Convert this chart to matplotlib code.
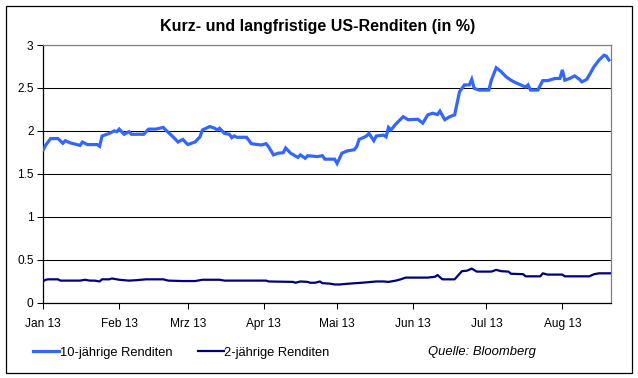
import pandas as pd
import matplotlib
matplotlib.use('Agg')
import matplotlib.pyplot as plt
from matplotlib.patches import Rectangle

plt.rcParams['font.family'] = ['Liberation Sans', 'DejaVu Sans']

# 10-year yields
dates_10y = ['2013-01-01', '2013-01-02', '2013-01-04', '2013-01-07', '2013-01-09', '2013-01-10',
             '2013-01-12', '2013-01-16', '2013-01-17', '2013-01-19', '2013-01-23', '2013-01-24',
             '2013-01-25', '2013-01-28', '2013-01-30', '2013-01-31', '2013-02-01', '2013-02-03',
             '2013-02-05', '2013-02-06', '2013-02-11', '2013-02-13', '2013-02-16', '2013-02-19',
             '2013-02-20', '2013-02-23', '2013-02-25', '2013-02-27', '2013-03-01', '2013-03-04',
             '2013-03-06', '2013-03-07', '2013-03-10', '2013-03-12', '2013-03-13', '2013-03-14',
             '2013-03-16', '2013-03-18', '2013-03-19', '2013-03-20', '2013-03-21', '2013-03-25',
             '2013-03-27', '2013-03-31', '2013-04-02', '2013-04-03', '2013-04-05', '2013-04-07',
             '2013-04-09', '2013-04-10', '2013-04-12', '2013-04-15', '2013-04-16', '2013-04-18',
             '2013-04-19', '2013-04-23', '2013-04-25', '2013-04-26', '2013-04-30', '2013-05-01',
             '2013-05-03', '2013-05-05', '2013-05-08', '2013-05-09', '2013-05-10', '2013-05-12',
             '2013-05-13', '2013-05-14', '2013-05-16', '2013-05-17', '2013-05-20', '2013-05-21',
             '2013-05-22', '2013-05-23', '2013-05-25', '2013-05-28', '2013-05-30', '2013-06-03',
             '2013-06-05', '2013-06-07', '2013-06-09', '2013-06-11', '2013-06-12', '2013-06-14',
             '2013-06-16', '2013-06-18', '2013-06-19', '2013-06-20', '2013-06-22', '2013-06-24',
             '2013-06-25', '2013-06-26', '2013-06-28', '2013-07-02', '2013-07-03', '2013-07-05',
             '2013-07-07', '2013-07-09', '2013-07-11', '2013-07-13', '2013-07-17', '2013-07-18',
             '2013-07-19', '2013-07-22', '2013-07-24', '2013-07-26', '2013-07-29', '2013-07-31',
             '2013-08-01', '2013-08-02', '2013-08-04', '2013-08-06', '2013-08-08', '2013-08-09',
             '2013-08-11', '2013-08-13', '2013-08-14', '2013-08-16', '2013-08-18', '2013-08-19',
             '2013-08-20']
yield_10y = [1.78, 1.835, 1.91, 1.91, 1.855, 1.885,
             1.86, 1.83, 1.87, 1.84, 1.84, 1.82,
             1.94, 1.97, 2.00, 1.99, 2.02, 1.96,
             1.99, 1.96, 1.96, 2.02, 2.02, 2.04,
             2.01, 1.93, 1.87, 1.90, 1.84, 1.87,
             1.93, 2.01, 2.05, 2.03, 2.01, 2.03,
             1.97, 1.96, 1.92, 1.94, 1.925, 1.925,
             1.85, 1.835, 1.85, 1.815, 1.72, 1.74,
             1.745, 1.80, 1.74, 1.69, 1.72, 1.68,
             1.71, 1.70, 1.71, 1.67, 1.67, 1.62,
             1.74, 1.765, 1.78, 1.815, 1.90, 1.925,
             1.94, 1.97, 1.885, 1.94, 1.95, 1.93,
             2.04, 2.01, 2.08, 2.165, 2.13, 2.135,
             2.09, 2.185, 2.205, 2.19, 2.23, 2.13,
             2.165, 2.185, 2.32, 2.455, 2.535, 2.535,
             2.60, 2.495, 2.475, 2.475, 2.59, 2.735,
             2.69, 2.63, 2.59, 2.56, 2.51, 2.535,
             2.475, 2.475, 2.585, 2.585, 2.61, 2.61,
             2.71, 2.59, 2.61, 2.64, 2.60, 2.57,
             2.60, 2.70, 2.75, 2.825, 2.88, 2.87,
             2.825]

# 2-year yields
dates_2y = ['2013-01-01', '2013-01-02', '2013-01-03', '2013-01-07', '2013-01-08', '2013-01-16',
            '2013-01-18', '2013-01-20', '2013-01-22', '2013-01-24', '2013-01-25', '2013-01-28',
            '2013-01-29', '2013-01-31', '2013-02-01', '2013-02-05', '2013-02-08', '2013-02-12',
            '2013-02-19', '2013-02-21', '2013-02-27', '2013-03-04', '2013-03-07', '2013-03-14',
            '2013-03-16', '2013-04-02', '2013-04-03', '2013-04-13', '2013-04-14', '2013-04-16',
            '2013-04-19', '2013-04-20', '2013-04-22', '2013-04-24', '2013-04-25', '2013-04-28',
            '2013-04-30', '2013-05-02', '2013-05-06', '2013-05-11', '2013-05-17', '2013-05-20',
            '2013-05-22', '2013-05-25', '2013-05-27', '2013-05-29', '2013-06-07', '2013-06-10',
            '2013-06-11', '2013-06-13', '2013-06-18', '2013-06-21', '2013-06-23', '2013-06-25',
            '2013-06-27', '2013-07-03', '2013-07-05', '2013-07-07', '2013-07-10', '2013-07-11',
            '2013-07-16', '2013-07-17', '2013-07-23', '2013-07-24', '2013-07-26', '2013-08-01',
            '2013-08-02', '2013-08-12', '2013-08-14', '2013-08-16', '2013-08-21']
yield_2y = [0.25, 0.265, 0.27, 0.27, 0.255, 0.255,
            0.265, 0.255, 0.255, 0.245, 0.27, 0.27,
            0.28, 0.27, 0.265, 0.255, 0.26, 0.27,
            0.27, 0.255, 0.25, 0.25, 0.265, 0.265,
            0.255, 0.255, 0.245, 0.24, 0.23, 0.245,
            0.24, 0.23, 0.23, 0.245, 0.225, 0.22,
            0.21, 0.21, 0.22, 0.23, 0.245, 0.245,
            0.24, 0.255, 0.27, 0.29, 0.29, 0.30,
            0.32, 0.27, 0.27, 0.365, 0.37, 0.395,
            0.36, 0.36, 0.38, 0.365, 0.36, 0.335,
            0.33, 0.305, 0.305, 0.34, 0.325, 0.325,
            0.305, 0.305, 0.33, 0.34, 0.34]

month_ticks = ['2013-01-01', '2013-02-01', '2013-03-01', '2013-04-01',
               '2013-05-01', '2013-06-01', '2013-07-01', '2013-08-01']
month_labels = ['Jan 13', 'Feb 13', 'Mrz 13', 'Apr 13', 'Mai 13', 'Jun 13', 'Jul 13', 'Aug 13']

W, H = 638, 378
fig = plt.figure(figsize=(W / 100, H / 100), dpi=100)
ax = fig.add_axes([43.3 / W, 1 - 302.5 / H, (611.3 - 43.3) / W, (302.5 - 45) / H])

ax.plot(pd.to_datetime(dates_10y), yield_10y, color='#3366FF', lw=2.3,
        solid_joinstyle='miter', label='10-jährige Renditen', zorder=3)
ax.plot(pd.to_datetime(dates_2y), yield_2y, color='#000080', lw=1.6,
        label='2-jährige Renditen', zorder=3)

ax.set_xlim(pd.Timestamp('2013-01-01'), pd.Timestamp('2013-08-21'))
ax.set_ylim(0, 3)
ax.set_yticks([0, 0.5, 1, 1.5, 2, 2.5, 3])
ax.set_yticklabels(['0', '0.5', '1', '1.5', '2', '2.5', '3'])
ax.set_xticks(pd.to_datetime(month_ticks))
ax.set_xticklabels(month_labels)
ax.grid(axis='y', color='black', lw=0.75, zorder=1)
ax.tick_params(axis='both', direction='out', length=4, width=0.75, color='black',
               labelsize=8.6, pad=3)
ax.tick_params(axis='x', pad=7)

for side in ['top', 'right']:
    ax.spines[side].set_color('#808080')
    ax.spines[side].set_linewidth(0.9)
for side in ['left', 'bottom']:
    ax.spines[side].set_color('black')
    ax.spines[side].set_linewidth(0.9)

fig.text(318 / W, 1 - 26 / H, 'Kurz- und langfristige US-Renditen (in %)',
         ha='center', va='center', fontsize=11.5, fontweight='bold')

fig.legend(loc='center left', bbox_to_anchor=(28 / W, 1 - 352.5 / H), ncol=2,
           frameon=False, fontsize=9.3, handlelength=2.0, handletextpad=0.05,
           columnspacing=2.0, borderaxespad=0)

fig.text(428 / W, 1 - 352.5 / H, 'Quelle: Bloomberg', ha='left', va='center',
         fontsize=9.4, style='italic')

fig.patches.append(Rectangle((5.5 / W, 1 - 372.5 / H), 626.5 / W, 367 / H,
                             transform=fig.transFigure, fill=False,
                             edgecolor='black', lw=0.9))

fig.savefig('out.png', dpi=100)
